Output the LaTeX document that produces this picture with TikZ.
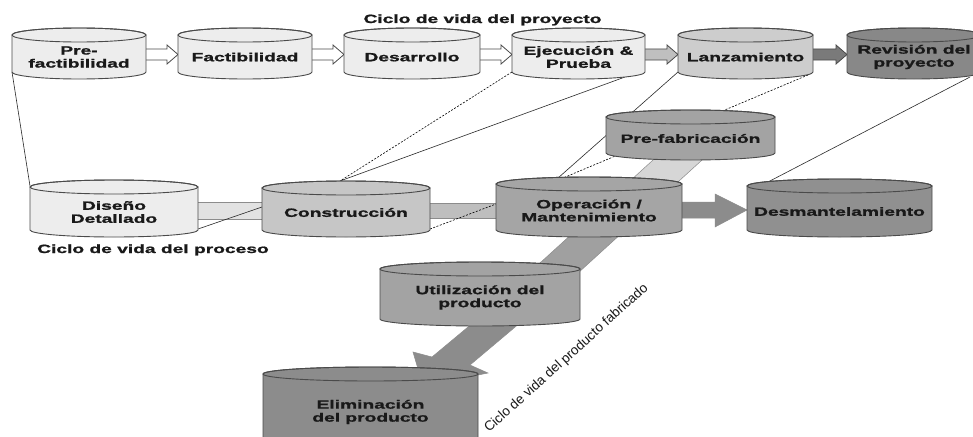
\documentclass[tikz,border=0pt]{standalone}
\usepackage{fontspec}
\setmainfont{Liberation Sans}
\newfontfamily\lblfont{Liberation Sans}[FakeStretch=1.6, BoldFeatures={FakeBold=1.2}]
\usetikzlibrary{calc,backgrounds}

\definecolor{edge}{HTML}{4A4A4A}
\definecolor{pale}{HTML}{EDEDED}
\definecolor{lanzfill}{HTML}{CDCDCD}
\definecolor{revfill}{HTML}{888888}
\definecolor{constrfill}{HTML}{C6C6C6}
\definecolor{opfill}{HTML}{A5A5A5}
\definecolor{desmfill}{HTML}{909090}
\definecolor{prefabfill}{HTML}{A3A3A3}
\definecolor{utilfill}{HTML}{A3A3A3}
\definecolor{elimfill}{HTML}{8C8C8C}
\definecolor{bandlight}{HTML}{E2E2E2}
\definecolor{bandmid}{HTML}{BEBEBE}
\definecolor{bandupper}{HTML}{D6D6D6}
\definecolor{bandlower}{HTML}{A0A0A0}
\definecolor{bandarrow}{HTML}{8C8C8C}
\definecolor{linkline}{HTML}{2A2A2A}

% cylinder: name, left x, right x, top y, bottom y, fill, text
\newcommand\ry{7}
\newcommand\cyl[7]{%
  \path[cylshape, fill=#6] (#2,#4+\ry) -- (#2,#5-\ry)
     arc[start angle=180, end angle=360, x radius={(#3-#2)*0.5pt}, y radius=7pt]
     -- (#3,#4+\ry)
     arc[start angle=0, end angle=180, x radius={(#3-#2)*0.5pt}, y radius=7pt] -- cycle;
  \draw[cylshape] ({(#2+#3)/2},#4+\ry) ellipse[x radius={(#3-#2)*0.5pt}, y radius=7pt];
  \node[cylbox, minimum width={(#3-#2)*1pt}, minimum height={(#5-#4)*1pt}] (#1) at ({(#2+#3)/2},{(#4+#5)/2}) {};
  \node[cyllabel] (#1-text) at ({(#2+#3)/2},{(#4+#5)/2+\ry/2}) {#7};
}

% block arrow between two cylinders of the top row
\newcommand\toparrow[3]{%
  \path[#3] ($(#1.east)+(-4,-4.5)$) -- ($(#2.west)+(-11,-4.5)$) -- ($(#2.west)+(-11,-8.5)$)
    -- ($(#2.west)+(0,1)$) -- ($(#2.west)+(-11,10.5)$) -- ($(#2.west)+(-11,6.5)$)
    -- ($(#1.east)+(-4,6.5)$) -- cycle;}

\begin{document}
\begin{tikzpicture}[x=1pt, y=-1pt,
  cylshape/.style={draw=edge, line width=0.9pt},
  cylbox/.style={shape=rectangle, inner sep=0pt, outer sep=0pt},
  cyllabel/.style={font=\lblfont\bfseries\fontsize{12}{13}\selectfont, align=center, inner sep=0pt, text=black!90},
  titlelabel/.style={font=\lblfont\bfseries\fontsize{12}{13}\selectfont, inner sep=0pt, text=black!90},
  slantlabel/.style={font=\fontsize{13.5}{15}\selectfont, inner sep=0pt, text=black!90},
  hollowarrow/.style={draw=edge, line width=0.8pt, fill=white},
  greyarrow/.style={draw=edge, line width=0.8pt, fill=#1},
  band/.style={draw=black!45, line width=0.5pt, fill=#1},
  link/.style={draw=linkline, line width=0.6pt},
  dashlink/.style={draw=black, line width=0.6pt, dash pattern=on 2pt off 1.5pt}]
\useasboundingbox (0,0) rectangle (973,436);

% project life cycle
\cyl{prefact}{12}{146}{28}{79}{pale}{Pre-\\factibilidad}
\cyl{fact}{178}{312}{28}{79}{pale}{Factibilidad}
\cyl{desarr}{344}{480}{28}{79}{pale}{Desarrollo}
\cyl{ejec}{512}{645}{28}{79}{pale}{Ejecución \&\\Prueba}
\cyl{lanz}{678}{813}{28}{79}{lanzfill}{Lanzamiento}
\cyl{rev}{847}{981}{28}{79}{revfill}{Revisión del\\proyecto}

% process life cycle
\cyl{prefab}{606}{775}{110}{160}{prefabfill}{Pre-fabricación}
\cyl{diseno}{30}{198}{180}{237}{pale}{Diseño\\Detallado}
\cyl{constr}{262}{430}{181}{237}{constrfill}{Construcción}
\cyl{oper}{496}{682}{177}{237}{opfill}{Operación /\\Mantenimiento}
\cyl{desm}{747}{932}{179}{237}{desmfill}{Desmantelamiento}

% manufactured product life cycle
\cyl{util}{380}{580}{262}{326}{utilfill}{Utilización del\\producto}
\cyl{elim}{263}{478}{367}{450}{elimfill}{Eliminación\\del producto}

\begin{scope}[on background layer]
  \fill[white] (0,0) rectangle (973,436);

  % arrows of the project row
  \toparrow{prefact}{fact}{hollowarrow}
  \toparrow{fact}{desarr}{hollowarrow}
  \toparrow{desarr}{ejec}{hollowarrow}
  \toparrow{ejec}{lanz}{greyarrow=black!25}
  \toparrow{lanz}{rev}{greyarrow=black!52}

  % bands of the process row
  \path[band=bandlight] ($(diseno.east)+(-4,-6.5)$) rectangle ($(constr.west)+(4,10)$);
  \path[band=bandmid] ($(constr.east)+(-4,-6)$) rectangle ($(oper.west)+(4,11)$);
  \path[band=bandarrow] ($(oper.east)+(-4,-5)$) -- ($(desm.west)+(-32,-6)$)
    -- ($(desm.west)+(-32,-14)$) -- ($(desm.west)+(0,2)$) -- ($(desm.west)+(-32,19)$)
    -- ($(desm.west)+(-32,10)$) -- ($(oper.east)+(-4,11)$) -- cycle;

  % diagonal band of the product
  \path[band=bandupper] ($(prefab.south)+(-26.5,-10)$) -- ($(prefab.south)+(22.5,-10)$)
    -- ($(oper.north)+(85.6,8)$) -- ($(oper.north)+(36.6,8)$) -- cycle;
  \path[band=bandlower] ($(oper.south)+(-12.8,-7)$) -- ($(oper.south)+(36.2,-7)$)
    -- ($(util.north)+(99.1,10)$) -- ($(util.north)+(50.1,10)$) -- cycle;
  \path[band=bandarrow] ($(util.south)+(0,-9)$) -- ($(elim.north)+(61.5,-10)$)
    -- ($(elim.north)+(42.5,-15)$) -- ($(elim.north)+(52.5,19)$)
    -- ($(elim.north)+(117.5,6)$) -- ($(elim.north)+(99.5,-2)$)
    -- ($(util.south)+(47,-9)$) -- cycle;

  % links between the phases
  \draw[link] ($(prefact.south west)+(0,-7)$) -- ($(diseno.north west)+(0,6)$);
  \draw[dashlink] ($(ejec.south west)+(0,-7)$) -- ($(constr.north)+(-6,0)$);
  \draw[link] ($(ejec.south east)+(-20,-2)$) -- ($(constr.north)+(-6,0)$);
  \draw[link] ($(diseno.south east)+(0,-8)$) -- ($(constr.west)+(0,-2)$);
  \draw[dashlink] ($(constr.south east)+(0,-8)$) -- ($(oper.west)+(0,-3)$);
  \draw[link] ($(lanz.south west)+(0,-7)$) -- ($(oper.north)+(-31,1)$);
  \draw[dashlink] ($(lanz.south east)+(-5,-4)$) -- ($(oper.north)+(-26,1)$);
  \draw[link] ($(rev.south east)+(-11,-2)$) -- ($(desm.north west)+(21,3)$);
\end{scope}

% captions
\node[titlelabel, anchor=base] (cap-proyecto) at (482.5,23) {Ciclo de vida del proyecto};
\node[titlelabel, anchor=base west] (cap-proceso) at (37,253) {Ciclo de vida del proceso};
\node[slantlabel, anchor=base west, rotate=42] (cap-producto) at (489,433) {Ciclo de vida del producto fabricado};
\end{tikzpicture}
\end{document}
